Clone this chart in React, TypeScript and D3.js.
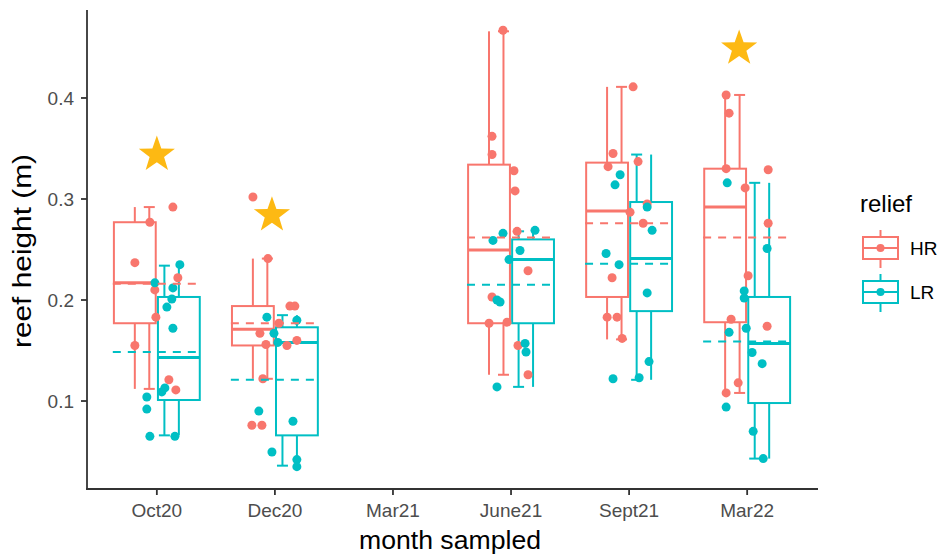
import React from 'react';
import * as d3 from 'd3';

// Sampling months on the x axis
const categories = ['Oct20', 'Dec20', 'Mar21', 'June21', 'Sept21', 'Mar22'];
const reliefs = ['HR', 'LR'];
const reliefColors = ['#F8766D', '#00BFC4'];
const yTicks = [0.1, 0.2, 0.3, 0.4];

// Box statistics per month: [lower whisker, Q1, median, Q3, upper whisker]; null = not sampled
const hrBoxes: (number[] | null)[] = [
  [0.112, 0.177, 0.217, 0.277, 0.292],
  [0.122, 0.155, 0.171, 0.194, 0.241],
  null,
  [0.126, 0.177, 0.2495, 0.334, 0.466],
  [0.161, 0.203, 0.288, 0.336, 0.411],
  [0.108, 0.178, 0.292, 0.33, 0.403],
];
const lrBoxes: (number[] | null)[] = [
  [0.066, 0.101, 0.143, 0.203, 0.234],
  [0.036, 0.066, 0.158, 0.173, 0.185],
  null,
  [0.114, 0.177, 0.24, 0.26, 0.268],
  [0.121, 0.189, 0.241, 0.297, 0.344],
  [0.043, 0.098, 0.157, 0.203, 0.316],
];

// Group means (dashed reference lines)
const hrMeans: (number | null)[] = [0.216, 0.177, null, 0.262, 0.276, 0.262];
const lrMeans: (number | null)[] = [0.1485, 0.121, null, 0.215, 0.236, 0.159];

// Individual reef measurements: [month, height (m), jitter in month units]
const hrPoints: [string, number, number][] = [
  ['Oct20', 0.237, -0.186], ['Oct20', 0.277, -0.059], ['Oct20', 0.292, 0.136],
  ['Oct20', 0.155, -0.186], ['Oct20', 0.21, -0.017], ['Oct20', 0.183, -0.008],
  ['Oct20', 0.222, 0.178], ['Oct20', 0.121, 0.102], ['Oct20', 0.111, 0.161],
  ['Dec20', 0.302, -0.186], ['Dec20', 0.241, -0.059], ['Dec20', 0.076, -0.195],
  ['Dec20', 0.076, -0.11], ['Dec20', 0.194, 0.127], ['Dec20', 0.194, 0.169],
  ['Dec20', 0.177, 0.034], ['Dec20', 0.167, -0.127], ['Dec20', 0.156, -0.076],
  ['Dec20', 0.155, 0.102], ['Dec20', 0.16, 0.186], ['Dec20', 0.122, -0.102],
  ['June21', 0.467, -0.068], ['June21', 0.362, -0.161], ['June21', 0.344, -0.161],
  ['June21', 0.328, 0.025], ['June21', 0.308, 0.034], ['June21', 0.268, 0.051],
  ['June21', 0.229, 0.144], ['June21', 0.203, -0.161], ['June21', 0.178, -0.034],
  ['June21', 0.155, 0.059], ['June21', 0.126, 0.144], ['June21', 0.177, -0.186],
  ['Sept21', 0.411, 0.034], ['Sept21', 0.345, -0.136], ['Sept21', 0.332, -0.178],
  ['Sept21', 0.337, 0.076], ['Sept21', 0.287, 0.008], ['Sept21', 0.295, 0.153],
  ['Sept21', 0.276, 0.119], ['Sept21', 0.222, -0.144], ['Sept21', 0.183, -0.186],
  ['Sept21', 0.183, -0.102], ['Sept21', 0.162, -0.059],
  ['Mar22', 0.403, -0.178], ['Mar22', 0.385, -0.153], ['Mar22', 0.33, -0.178],
  ['Mar22', 0.311, -0.017], ['Mar22', 0.329, 0.178], ['Mar22', 0.276, 0.178],
  ['Mar22', 0.224, 0.008], ['Mar22', 0.181, -0.136], ['Mar22', 0.174, 0.169],
  ['Mar22', 0.118, -0.076], ['Mar22', 0.108, -0.178],
];
const lrPoints: [string, number, number][] = [
  ['Oct20', 0.235, 0.195], ['Oct20', 0.217, -0.017], ['Oct20', 0.212, 0.136],
  ['Oct20', 0.201, 0.127], ['Oct20', 0.193, 0.085], ['Oct20', 0.172, 0.136],
  ['Oct20', 0.104, -0.085], ['Oct20', 0.092, -0.085], ['Oct20', 0.065, -0.059],
  ['Oct20', 0.065, 0.153], ['Oct20', 0.113, 0.068], ['Oct20', 0.109, 0.042],
  ['Dec20', 0.183, -0.068], ['Dec20', 0.18, 0.186], ['Dec20', 0.167, -0.008],
  ['Dec20', 0.158, 0.025], ['Dec20', 0.09, -0.136], ['Dec20', 0.08, 0.153],
  ['Dec20', 0.0495, -0.025], ['Dec20', 0.042, 0.186], ['Dec20', 0.035, 0.186],
  ['June21', 0.266, -0.068], ['June21', 0.259, -0.153], ['June21', 0.269, 0.203],
  ['June21', 0.249, 0.076], ['June21', 0.24, -0.017], ['June21', 0.2, -0.119],
  ['June21', 0.198, -0.093], ['June21', 0.157, 0.119], ['June21', 0.1485, 0.127],
  ['June21', 0.114, -0.119],
  ['Sept21', 0.324, -0.076], ['Sept21', 0.314, -0.119], ['Sept21', 0.292, 0.153],
  ['Sept21', 0.269, 0.195], ['Sept21', 0.246, -0.195], ['Sept21', 0.235, -0.085],
  ['Sept21', 0.207, 0.153], ['Sept21', 0.122, -0.136], ['Sept21', 0.123, 0.085],
  ['Sept21', 0.139, 0.169],
  ['Mar22', 0.316, -0.169], ['Mar22', 0.251, 0.169], ['Mar22', 0.209, -0.025],
  ['Mar22', 0.202, -0.025], ['Mar22', 0.168, -0.153], ['Mar22', 0.172, -0.008],
  ['Mar22', 0.148, 0.042], ['Mar22', 0.137, 0.127], ['Mar22', 0.094, -0.178],
  ['Mar22', 0.07, 0.051], ['Mar22', 0.043, 0.136],
];

// Significance stars: [month, height, offset in month units]
const stars: [string, number, number][] = [
  ['Oct20', 0.344, 0],
  ['Dec20', 0.284, -0.025],
  ['Mar22', 0.449, -0.068],
];

const FONT = '"Liberation Sans", Arial, Helvetica, sans-serif';

function starPath(cx: number, cy: number, R: number, r: number) {
  const pts: string[] = [];
  for (let i = 0; i < 10; i++) {
    const a = -Math.PI / 2 + (i * Math.PI) / 5;
    const rad = i % 2 === 0 ? R : r;
    pts.push(`${cx + rad * Math.cos(a)},${cy + rad * Math.sin(a)}`);
  }
  return `M${pts.join('L')}Z`;
}

export default function App() {
  const width = 950;
  const height = 556;
  const plotLeft = 87;
  const plotRight = 818;
  const plotTop = 10;
  const plotBottom = 489;

  const x = d3.scalePoint<string>().domain(categories).range([plotLeft - 1, plotRight]).padding(0.6);
  const y = d3.scaleLinear().domain([0.0129, 0.4871]).range([plotBottom, plotTop]);
  const step = x.step();
  const dodge = d3.scaleBand<string>().domain(reliefs).range([-0.373 * step, 0.373 * step]);
  const errDodge = d3.scaleBand<string>().domain(reliefs).range([-0.128 * step, 0.128 * step]);
  const color = d3.scaleOrdinal<string, string>().domain(reliefs).range(reliefColors);

  const boxW = dodge.bandwidth() * 0.95;
  const capW = 11;
  const lw = 2;

  const boxesBy: Record<string, (number[] | null)[]> = { HR: hrBoxes, LR: lrBoxes };
  const meansBy: Record<string, (number | null)[]> = { HR: hrMeans, LR: lrMeans };
  const pointsBy: Record<string, [string, number, number][]> = { HR: hrPoints, LR: lrPoints };

  return (
    <svg width={width} height={height} style={{ position: 'absolute', left: 0, top: 0, background: '#fff' }}>
      {/* boxplots with whiskers */}
      {reliefs.map((rel) =>
        boxesBy[rel].map((b, i) => {
          if (!b) return null;
          const cat = categories[i];
          const cx = (x(cat) as number) + (dodge(rel) as number) + dodge.bandwidth() / 2;
          const ex = (x(cat) as number) + (errDodge(rel) as number) + errDodge.bandwidth() / 2;
          const c = color(rel);
          const [lo, q1, med, q3, hi] = b;
          return (
            <g key={rel + cat} stroke={c} fill="none" strokeWidth={lw}>
              <line x1={cx} x2={cx} y1={y(q3)} y2={y(hi)} />
              <line x1={cx} x2={cx} y1={y(q1)} y2={y(lo)} />
              <line x1={ex} x2={ex} y1={y(q3)} y2={y(hi)} />
              <line x1={ex} x2={ex} y1={y(q1)} y2={y(lo)} />
              <line x1={ex - capW / 2} x2={ex + capW / 2} y1={y(hi)} y2={y(hi)} />
              <line x1={ex - capW / 2} x2={ex + capW / 2} y1={y(lo)} y2={y(lo)} />
              <rect x={cx - boxW / 2} y={y(q3)} width={boxW} height={y(q1) - y(q3)} />
              <line x1={cx - boxW / 2} x2={cx + boxW / 2} y1={y(med)} y2={y(med)} strokeWidth={3} />
            </g>
          );
        })
      )}

      {/* jittered measurements */}
      {reliefs.map((rel) =>
        pointsBy[rel].map(([cat, v, j], k) => (
          <circle key={rel + k} cx={(x(cat) as number) + j * step} cy={y(v)} r={4.5} fill={color(rel)} />
        ))
      )}

      {/* group means */}
      {reliefs.map((rel) =>
        meansBy[rel].map((m, i) => {
          if (m == null) return null;
          const cat = categories[i];
          const xc = x(cat) as number;
          return (
            <line
              key={'m' + rel + cat}
              x1={xc - 0.373 * step}
              x2={xc + 0.38 * step}
              y1={y(m)}
              y2={y(m)}
              stroke={color(rel)}
              strokeWidth={lw}
              strokeDasharray="8,7"
            />
          );
        })
      )}

      {/* significance stars */}
      {stars.map(([cat, v, off]) => (
        <path key={'s' + cat} d={starPath((x(cat) as number) + off * step, y(v), 19, 7.6)} fill="#FDB913" />
      ))}

      {/* axes */}
      <g stroke="#333" strokeWidth={1.8}>
        <line x1={plotLeft} x2={plotLeft} y1={plotTop} y2={plotBottom + 0.9} />
        <line x1={plotLeft - 0.9} x2={plotRight} y1={plotBottom} y2={plotBottom} />
        {yTicks.map((t) => (
          <line key={'yt' + t} x1={plotLeft - 6} x2={plotLeft} y1={y(t)} y2={y(t)} />
        ))}
        {categories.map((c) => (
          <line key={'xt' + c} x1={x(c)} x2={x(c)} y1={plotBottom} y2={plotBottom + 6} />
        ))}
      </g>
      <g fontFamily={FONT} fontSize={19} fill="#4D4D4D">
        {yTicks.map((t) => (
          <text key={'yl' + t} x={plotLeft - 13} y={y(t)} dy="0.36em" textAnchor="end">
            {d3.format('.1f')(t)}
          </text>
        ))}
        {categories.map((c) => (
          <text key={'xl' + c} x={x(c)} y={517} textAnchor="middle">
            {c}
          </text>
        ))}
      </g>
      <text
        x={450}
        y={549}
        textAnchor="middle"
        fontFamily={FONT}
        fontSize={25}
        fill="#000"
        textLength={182}
        lengthAdjust="spacingAndGlyphs"
      >
        month sampled
      </text>
      <text
        transform={`translate(31, 251) rotate(-90)`}
        textAnchor="middle"
        fontFamily={FONT}
        fontSize={25}
        fill="#000"
        textLength={194}
        lengthAdjust="spacingAndGlyphs"
      >
        reef height (m)
      </text>

      {/* legend */}
      <text x={860} y={212} fontFamily={FONT} fontSize={24} fill="#000">
        relief
      </text>
      {reliefs.map((rel, i) => {
        const cy = 248 + i * 44;
        const c = color(rel);
        return (
          <g key={'lg' + rel}>
            <g stroke={c} strokeWidth={lw} fill="none">
              <line x1={880.5} x2={880.5} y1={cy - 18} y2={cy + 20} />
              <rect x={863} y={cy - 11} width={35} height={22} fill="#fff" />
              <line x1={863} x2={898} y1={cy} y2={cy} />
            </g>
            <circle cx={880.5} cy={cy} r={4} fill={c} />
            <text x={910} y={cy} dy="0.36em" fontFamily={FONT} fontSize={19} fill="#000">
              {rel}
            </text>
          </g>
        );
      })}
    </svg>
  );
}
